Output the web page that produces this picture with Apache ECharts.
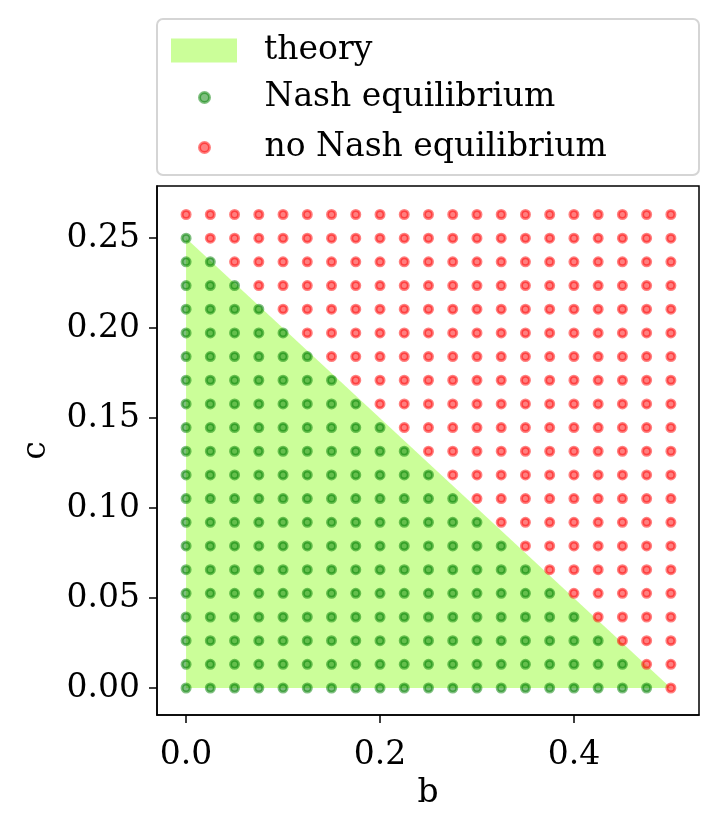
<!DOCTYPE html>
<html>
<head>
<meta charset="utf-8">
<script src="https://cdn.jsdelivr.net/npm/echarts@6/dist/echarts.min.js"></script>
<style>
  html, body { margin: 0; padding: 0; background: #fff; }
  #chart { width: 723px; height: 829px; }
</style>
</head>
<body>
<div id="chart"></div>
<script>
// grid of (b, c) values that were tested
const bValues = [0, 0.025, 0.05, 0.075, 0.1, 0.125, 0.15, 0.175, 0.2, 0.225, 0.25,
                 0.275, 0.3, 0.325, 0.35, 0.375, 0.4, 0.425, 0.45, 0.475, 0.5]
const cValues = [0, 0.01316, 0.02632, 0.03947, 0.05263, 0.06579, 0.07895, 0.09211,
                 0.10526, 0.11842, 0.13158, 0.14474, 0.15789, 0.17105, 0.18421,
                 0.19737, 0.21053, 0.22368, 0.23684, 0.25, 0.26316]
// for each c row: how many of the leftmost b columns have a Nash equilibrium
const nashCountPerRow = [20, 19, 18, 17, 16, 15, 14, 13, 12, 11, 10,
                         9, 8, 7, 6, 5, 4, 3, 2, 1, 0]
// theory boundary (area below it)
const theoryB = [0, 0.5]
const theoryC = [0.25, 0]
// tick labels
const xTicks = [0, 0.2, 0.4]
const yTicks = [0, 0.05, 0.1, 0.15, 0.2, 0.25]

const FONT = 'DejaVu Serif'
const FS = 33

let nashPts = []
let noNashPts = []
cValues.forEach((c, k) => {
    bValues.forEach((b, j) => {
        if (j < nashCountPerRow[k]) nashPts.push([b, c])
        else noNashPts.push([b, c])
    })
})
let theoryPts = theoryB.map((b, i) => [b, theoryC[i]])

const green = 'rgba(0,128,0,0.5)'
const red = 'rgba(255,0,0,0.5)'
const lime = 'rgba(124,252,0,0.4)'

let chart = echarts.init(document.getElementById('chart'))
let option = {
    animation: false,
    backgroundColor: '#fff',
    textStyle: { fontFamily: FONT },
    graphic: [{
        type: 'rect',
        shape: { x: 157, y: 19, width: 542, height: 156, r: 6 },
        style: { fill: '#fff', stroke: '#d5d5d5', lineWidth: 2 },
        z: -1
    }],
    legend: [{
        left: 171, top: 34, padding: 0,
        itemWidth: 66, itemHeight: 24,
        data: [{ name: 'theory', icon: 'rect', itemStyle: { color: lime, borderWidth: 0 } }],
        textStyle: { fontFamily: FONT, fontSize: FS, color: '#000', padding: [0, 0, 0, 22] }
    }, {
        left: 198, top: 79, padding: 0, orient: 'vertical',
        itemWidth: 66, itemHeight: 10, itemGap: 13,
        data: [
            { name: 'Nash equilibrium', icon: 'circle',
              itemStyle: { color: green, borderColor: green, borderWidth: 3 } },
            { name: 'no Nash equilibrium', icon: 'circle',
              itemStyle: { color: red, borderColor: red, borderWidth: 3 } }
        ],
        textStyle: { fontFamily: FONT, fontSize: FS, color: '#000', lineHeight: 37, padding: [0, 0, 0, 22] }
    }],
    grid: {
        left: 157, right: 24, top: 186, bottom: 114,
        show: true, borderColor: '#000', borderWidth: 1.5
    },
    xAxis: {
        type: 'value', min: -0.03, max: 0.529,
        name: 'b', nameLocation: 'middle', nameGap: 62,
        nameTextStyle: { fontFamily: FONT, fontSize: FS, color: '#000' },
        splitLine: { show: false },
        axisLine: { show: true, onZero: false, lineStyle: { color: '#000', width: 1.5 } },
        axisTick: { customValues: xTicks, length: 8, lineStyle: { color: '#000', width: 1.5 } },
        axisLabel: {
            customValues: xTicks, margin: 24,
            fontFamily: FONT, fontSize: FS, color: '#000',
            formatter: v => v.toFixed(1)
        }
    },
    yAxis: {
        type: 'value', min: -0.015, max: 0.279,
        name: 'c', nameLocation: 'middle', nameGap: 104,
        nameTextStyle: { fontFamily: FONT, fontSize: FS, color: '#000' },
        splitLine: { show: false },
        axisLine: { show: true, onZero: false, lineStyle: { color: '#000', width: 1.5 } },
        axisTick: { customValues: yTicks, length: 8, lineStyle: { color: '#000', width: 1.5 } },
        axisLabel: {
            customValues: yTicks, margin: 17,
            fontFamily: FONT, fontSize: FS, color: '#000',
            formatter: v => v.toFixed(2)
        }
    },
    series: [{
        name: 'theory',
        type: 'line',
        data: theoryPts,
        symbol: 'none',
        lineStyle: { width: 0, opacity: 0 },
        itemStyle: { color: lime },
        areaStyle: { color: lime, opacity: 1 },
        z: 1
    }, {
        name: 'Nash equilibrium',
        type: 'scatter',
        data: nashPts,
        symbolSize: 8,
        itemStyle: { color: green, borderColor: green, borderWidth: 3, opacity: 1 },
        z: 2
    }, {
        name: 'no Nash equilibrium',
        type: 'scatter',
        data: noNashPts,
        symbolSize: 8,
        itemStyle: { color: red, borderColor: red, borderWidth: 3, opacity: 1 },
        z: 2
    }]
}
chart.setOption(option)
</script>
</body>
</html>
